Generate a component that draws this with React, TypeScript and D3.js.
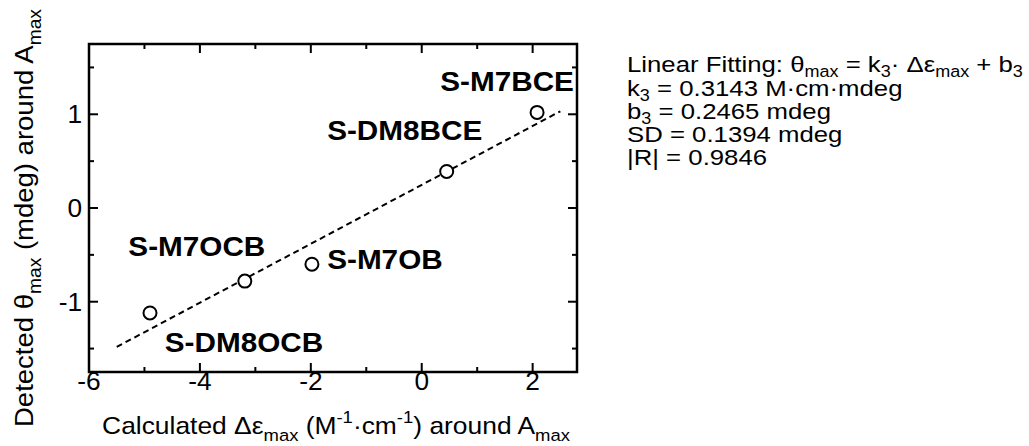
import React from "react";
import * as d3 from "d3";

// ---- data ----
const samples = ["S-DM8OCB", "S-M7OCB", "S-M7OB", "S-DM8BCE", "S-M7BCE"];
const deltaEpsMax = [-4.9, -3.19, -1.98, 0.45, 2.08];
const thetaMax = [-1.12, -0.78, -0.6, 0.39, 1.02];
const fitK = 0.3143;
const fitB = 0.2465;
const fitRange = [-5.5, 2.5];
const xMajorTicks = [-6, -4, -2, 0, 2];
const xMinorTicks = [-5, -3, -1, 1];
const yMajorTicks = [-1, 0, 1];
const yMinorTicks = [-1.5, -0.5, 0.5, 1.5];

// label placement (pixel offsets of label centre from its point)
const labelOffsets = [
  [94, 39],
  [-48, -25],
  [73, 5],
  [-42, -31],
  [-30, -21],
];

const FONT = "'Liberation Sans', Arial, Helvetica, sans-serif";
const SX = 1.1;

type Seg = [string, "n" | "sub" | "sup"];

function Rich({ segs, subShift = 0.3 }: { segs: Seg[]; subShift?: number }) {
  let cur = 0;
  const out: any[] = [];
  segs.forEach(([t, k], i) => {
    const target = k === "sub" ? subShift : k === "sup" ? -0.45 : 0;
    const dy = target - cur;
    const fs = k === "n" ? undefined : "0.7em";
    const scale = k === "n" ? 1 : 0.7;
    out.push(
      <tspan key={i} dy={`${(dy / scale).toFixed(3)}em`} fontSize={fs}>
        {t}
      </tspan>
    );
    cur = target;
  });
  return <>{out}</>;
}

export default function App() {
  const W = 1029, H = 446;
  const L = 89, R = 577, T = 44, B = 372;
  const x = d3.scaleLinear().domain([-6, 2.8]).range([L, R]);
  const y = d3.scaleLinear().domain([-1.75, 1.75]).range([B, T]);
  const fitLine = d3.line<number>().x((v) => x(v)).y((v) => y(fitK * v + fitB));

  const Txt = (p: { x: number; y: number; size: number; anchor?: string; weight?: string; sx?: number; rotate?: number; children: any }) => (
    <text
      transform={`translate(${p.x},${p.y}) rotate(${p.rotate || 0}) scale(${p.sx ?? SX},1)`}
      fontSize={p.size}
      fontFamily={FONT}
      fontWeight={p.weight || "normal"}
      textAnchor={p.anchor || "start"}
      fill="#000"
    >
      {p.children}
    </text>
  );

  const tickMaj = 9, tickMin = 5;

  return (
    <svg width={W} height={H} style={{ position: "absolute", left: 0, top: 0, background: "#fff" }}>
      {/* fit line */}
      <path d={fitLine(fitRange) || ""} fill="none" stroke="#000" strokeWidth={2} strokeDasharray="6,4" />
      {/* points */}
      {deltaEpsMax.map((v, i) => (
        <circle key={i} cx={x(v)} cy={y(thetaMax[i])} r={6.5} fill="#fff" stroke="#000" strokeWidth={2} />
      ))}
      {/* labels */}
      {samples.map((s, i) => (
        <Txt key={s} x={x(deltaEpsMax[i]) + labelOffsets[i][0]} y={y(thetaMax[i]) + labelOffsets[i][1]} size={27} weight="bold" anchor="middle">
          {s}
        </Txt>
      ))}
      {/* ticks */}
      <g stroke="#000" strokeWidth={2}>
        {xMajorTicks.map((t) => (
          <g key={"xm" + t}>
            <line x1={x(t)} x2={x(t)} y1={B} y2={B - tickMaj} />
            <line x1={x(t)} x2={x(t)} y1={T} y2={T + tickMaj} />
          </g>
        ))}
        {xMinorTicks.map((t) => (
          <g key={"xn" + t}>
            <line x1={x(t)} x2={x(t)} y1={B} y2={B - tickMin} />
            <line x1={x(t)} x2={x(t)} y1={T} y2={T + tickMin} />
          </g>
        ))}
        {yMajorTicks.map((t) => (
          <g key={"ym" + t}>
            <line x1={L} x2={L + tickMaj} y1={y(t)} y2={y(t)} />
            <line x1={R} x2={R - tickMaj} y1={y(t)} y2={y(t)} />
          </g>
        ))}
        {yMinorTicks.map((t) => (
          <g key={"yn" + t}>
            <line x1={L} x2={L + tickMin} y1={y(t)} y2={y(t)} />
            <line x1={R} x2={R - tickMin} y1={y(t)} y2={y(t)} />
          </g>
        ))}
      </g>
      <rect x={L} y={T} width={R - L} height={B - T} fill="none" stroke="#000" strokeWidth={2.5} />
      {/* tick labels */}
      {xMajorTicks.map((t) => (
        <Txt key={"xl" + t} x={x(t)} y={B + 18} size={25} sx={1.05} anchor="middle">
          {String(t)}
        </Txt>
      ))}
      {yMajorTicks.map((t) => (
        <Txt key={"yl" + t} x={L - 7} y={y(t) + 9} size={25} sx={1.05} anchor="end">
          {String(t)}
        </Txt>
      ))}
      {/* axis titles */}
      <Txt x={(L + R) / 2 + 3} y={434} size={24} anchor="middle">
        <Rich segs={[["Calculated Δε", "n"], ["max", "sub"], [" (M", "n"], ["-1", "sup"], ["·cm", "n"], ["-1", "sup"], [") around A", "n"], ["max", "sub"]]} />
      </Txt>
      <Txt x={33} y={(T + B) / 2 + 10} size={25} anchor="middle" rotate={-90}>
        <Rich segs={[["Detected θ", "n"], ["max", "sub"], [" (mdeg) around A", "n"], ["max", "sub"]]} />
      </Txt>
      {/* fit info */}
      <Txt x={627} y={72} size={23} sx={1.12}>
        <Rich subShift={0.22} segs={[["Linear Fitting: θ", "n"], ["max", "sub"], [" = k", "n"], ["3", "sub"], ["· Δε", "n"], ["max", "sub"], [" + b", "n"], ["3", "sub"]]} />
      </Txt>
      <Txt x={627} y={96} size={23} sx={1.12}>
        <Rich subShift={0.22} segs={[["k", "n"], ["3", "sub"], [" = 0.3143 M·cm·mdeg", "n"]]} />
      </Txt>
      <Txt x={627} y={119} size={23} sx={1.12}>
        <Rich subShift={0.22} segs={[["b", "n"], ["3", "sub"], [" = 0.2465 mdeg", "n"]]} />
      </Txt>
      <Txt x={627} y={142} size={23} sx={1.12}>
        SD = 0.1394 mdeg
      </Txt>
      <Txt x={627} y={165} size={23} sx={1.12}>
        |R| = 0.9846
      </Txt>
    </svg>
  );
}
